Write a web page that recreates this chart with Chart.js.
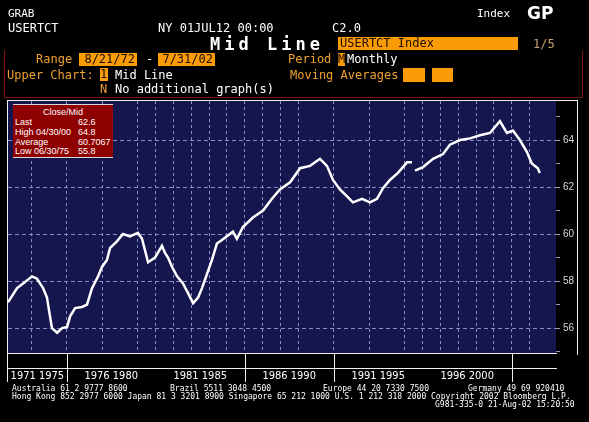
<!doctype html>
<html lang="en">
<head>
<meta charset="utf-8">
<title>Mid Line - USERTCT Index</title>
<script src="https://cdn.jsdelivr.net/npm/chart.js@4.4.4/dist/chart.umd.min.js"></script>
<style>
  html, body { margin: 0; background: #000; }
  .screen { position: relative; width: 589px; height: 422px; overflow: hidden; background: #000; }
  canvas { position: absolute; left: 0; top: 0; }
  .t { position: absolute; white-space: pre; font-family: "DejaVu Sans Mono", monospace; font-size: 12px; line-height: 14px; color: #fff; }
  .o { color: #eea030; }
  .box { position: absolute; background: #fb9b06; color: #1a0e00; font-family: "DejaVu Sans Mono", monospace; font-size: 12px; line-height: 13px; height: 13px; white-space: pre; }
  .foot { position: absolute; white-space: pre; font-family: "DejaVu Sans Mono", monospace; font-size: 8px; line-height: 8px; color: #fff; }
  .stats { position: absolute; left: 13px; top: 104px; width: 100px; height: 52px; background: #8e0000;
           border-top: 1px solid #d8d8d8; border-bottom: 1px solid #d8d8d8;
           font-family: "Liberation Sans", Arial, sans-serif; font-size: 9px; line-height: 10px; color: #fff; }
  .stats div { position: absolute; white-space: pre; }
</style>
</head>
<body>
<div class="screen">
<canvas id="chart" width="589" height="422"></canvas>

<div class="t" style="left:8px;top:7px;font-size:11px">GRAB</div>
<div class="t" style="left:8px;top:21px">USERTCT</div>
<div class="t" style="left:158px;top:21px">NY 01JUL12 00:00</div>
<div class="t" style="left:332px;top:21px">C2.0</div>
<div class="t" style="left:477px;top:7px;font-size:11px">Index</div>
<div class="t" style="left:527px;top:5px;font:bold 17px 'DejaVu Sans',sans-serif;line-height:17px">GP</div>
<div class="t" style="left:210px;top:36px;font-weight:bold;font-size:17px;letter-spacing:4px;line-height:16px">Mid Line</div>
<div class="box" style="left:338px;top:37px;width:180px;padding-left:2px;box-sizing:border-box">USERTCT Index</div>
<div class="t" style="left:533px;top:37px;color:#c8a070">1/5</div>

<div class="t o" style="left:36px;top:52px">Range</div>
<div class="box" style="left:79px;top:53px;width:58px;text-align:right;padding-right:2px;box-sizing:border-box">8/21/72</div>
<div class="t" style="left:146px;top:52px">-</div>
<div class="box" style="left:158px;top:53px;width:57px;text-align:right;padding-right:2px;box-sizing:border-box">7/31/02</div>
<div class="t o" style="left:288px;top:52px">Period</div>
<div class="box" style="left:338px;top:53px;width:7px">M</div>
<div class="t" style="left:347px;top:52px">Monthly</div>

<div class="t o" style="left:7px;top:68px">Upper Chart:</div>
<div class="box" style="left:100px;top:68px;width:8px">1</div>
<div class="t" style="left:115px;top:68px">Mid Line</div>
<div class="t o" style="left:290px;top:68px">Moving Averages</div>
<div class="box" style="left:403px;top:68px;width:22px;height:14px"></div>
<div class="box" style="left:432px;top:68px;width:21px;height:14px"></div>
<div class="t o" style="left:100px;top:82px">N</div>
<div class="t" style="left:115px;top:82px">No additional graph(s)</div>

<div class="stats">
  <div style="left:0;width:100px;text-align:center;top:2px">Close/Mid</div>
  <div style="left:2px;top:12px">Last</div><div style="left:65px;top:12px">62.6</div>
  <div style="left:2px;top:22px">High 04/30/00</div><div style="left:65px;top:22px">64.8</div>
  <div style="left:2px;top:32px">Average</div><div style="left:65px;top:32px">60.7067</div>
  <div style="left:2px;top:41px">Low 06/30/75</div><div style="left:65px;top:41px">55.8</div>
</div>

<div class="foot" style="left:12px;top:385px">Australia 61 2 9777 8600</div>
<div class="foot" style="left:170px;top:385px">Brazil 5511 3048 4500</div>
<div class="foot" style="left:323px;top:385px">Europe 44 20 7330 7500</div>
<div class="foot" style="left:468px;top:385px">Germany 49 69 920410</div>
<div class="foot" style="left:12px;top:393px">Hong Kong 852 2977 6000 Japan 81 3 3201 8900 Singapore 65 212 1000 U.S. 1 212 318 2000 Copyright 2002 Bloomberg L.P.</div>
<div class="foot" style="left:435px;top:401px">G981-335-0 21-Aug-02 15:20:50</div>
</div>

<script>
// Mid line values, dates as decimal years.
// The null marks the short gap in the line around mid-1995.
const dateYears = [
  1972.70, 1973.21, 1973.55, 1974.05, 1974.33, 1974.67, 1974.89, 1975.06, 1975.17, 1975.46,
  1975.74, 1976.02, 1976.19, 1976.47, 1976.86, 1977.14, 1977.42, 1977.76, 1977.98, 1978.26,
  1978.43, 1978.83, 1979.16, 1979.55, 1980.00, 1980.23, 1980.40, 1980.57, 1980.96, 1981.35,
  1981.52, 1981.69, 1981.92, 1982.20, 1982.53, 1982.81, 1983.10, 1983.38, 1983.60, 1983.88,
  1984.16, 1984.44, 1984.72, 1985.34, 1985.56, 1985.90, 1986.46, 1987.03, 1987.53, 1987.98,
  1988.55, 1989.11, 1989.67, 1990.23, 1990.62, 1990.96, 1991.35, 1991.75, 1992.08, 1992.59,
  1993.04, 1993.43, 1993.77, 1994.16, 1994.61, 1995.12, 1995.40, 1995.48, 1995.57, 1996.02,
  1996.58, 1997.14, 1997.53, 1998.10, 1998.66, 1999.22, 1999.78, 2000.34, 2000.73, 2001.07,
  2001.46, 2001.85, 2002.13, 2002.47, 2002.58
];
const midValues = [
  57.1, 57.7, 57.9, 58.2, 58.1, 57.7, 57.3, 56.5, 56.0, 55.8,
  56.0, 56.05, 56.5, 56.85, 56.9, 57.0, 57.7, 58.2, 58.6, 58.9,
  59.4, 59.7, 60.0, 59.9, 60.05, 59.8, 59.3, 58.8, 59.0, 59.5,
  59.2, 59.0, 58.6, 58.2, 57.9, 57.5, 57.06, 57.3, 57.7, 58.3,
  58.9, 59.6, 59.75, 60.1, 59.8, 60.3, 60.7, 61.0, 61.5, 61.9,
  62.2, 62.8, 62.9, 63.2, 62.9, 62.3, 61.9, 61.6, 61.35, 61.5,
  61.35, 61.5, 61.95, 62.3, 62.6, 63.05, 63.05, null, 62.7, 62.85,
  63.2, 63.4, 63.8, 64.0, 64.07, 64.2, 64.3, 64.8, 64.3, 64.4,
  64.0, 63.5, 63.0, 62.8, 62.6
];

// Axis settings
const xMin = 1972.70, xMax = 2003.49;
const yMin = 54.94, yMax = 65.66;
const gridYears = [1974, 1976, 1978, 1980, 1981, 1982, 1983, 1984, 1985, 1986, 1987, 1988, 1989,
                   1991, 1993, 1995, 1996, 1997, 1998, 1999, 2000, 2001, 2002];
const yTicks = [55, 56, 57, 58, 59, 60, 61, 62, 63, 64, 65];
const periodLabels = ["1971 1975", "1976 1980", "1981 1985", "1986 1990", "1991 1995", "1996 2000"];
const periodStarts = [1971, 1976, 1981, 1986, 1991, 1996];
const boxEdges = [1976, 1986, 1991, 2001];

const NAVY = "#16164e";
const GRID = "#8a8ac4";

const points = dateYears.map((x, i) => ({ x, y: midValues[i] }));

const frame = {
  id: "frame",
  beforeDraw(chart) {
    const { ctx, chartArea: a } = chart;
    ctx.save();
    ctx.fillStyle = "#000";
    ctx.fillRect(0, 0, chart.width, chart.height);
    ctx.fillStyle = NAVY;
    ctx.fillRect(a.left, a.top, a.right - a.left, a.bottom - a.top);
    ctx.restore();
  },
  afterDraw(chart) {
    const { ctx, chartArea: a } = chart;
    const xs = chart.scales.x;
    const line = (x1, y1, x2, y2, c) => {
      ctx.strokeStyle = c;
      ctx.beginPath(); ctx.moveTo(x1, y1); ctx.lineTo(x2, y2); ctx.stroke();
    };
    ctx.save();
    ctx.lineWidth = 1;
    // dark red header frame
    line(4.5, 50, 4.5, 97.5, "#7a1414");
    line(582.5, 50, 582.5, 97.5, "#7a1414");
    line(4.5, 97.5, 582.5, 97.5, "#7a1414");
    // white chart frame
    const W = "#f0f0f0";
    line(7, a.top - 0.5, 578, a.top - 0.5, W);
    line(7.5, a.top - 1, 7.5, 382, W);
    line(577.5, a.top - 1, 577.5, 355, W);
    line(7, a.bottom + 0.5, a.right + 1, a.bottom + 0.5, W);
    line(7, a.bottom + 15.5, a.right + 1, a.bottom + 15.5, W);
    for (const yr of boxEdges) {
      const px = Math.round(xs.getPixelForValue(yr)) + 0.5;
      line(px, a.bottom, px, 382, W);
    }
    // period labels
    ctx.fillStyle = "#fff";
    ctx.font = "11px 'Liberation Sans Narrow', 'DejaVu Sans Condensed', sans-serif";
    ctx.textAlign = "center";
    ctx.textBaseline = "middle";
    periodLabels.forEach((lab, i) => {
      const s = Math.max(periodStarts[i], xMin), e = periodStarts[i] + 5;
      ctx.fillText(lab, xs.getPixelForValue((s + e) / 2), a.bottom + 23);
    });
    ctx.restore();
  }
};

new Chart(document.getElementById("chart"), {
  type: "line",
  data: {
    datasets: [{
      data: points, borderColor: "#ffffff", borderWidth: 2.5,
      pointRadius: 0, tension: 0, spanGaps: false,
    }],
  },
  options: {
    responsive: false, animation: false,
    layout: { padding: { left: 8, top: 101, right: 0, bottom: 69 } },
    plugins: { legend: { display: false }, tooltip: { enabled: false } },
    scales: {
      x: {
        type: "linear", min: xMin, max: xMax,
        afterBuildTicks: (s) => { s.ticks = gridYears.map((v) => ({ value: v })); },
        ticks: { display: false },
        grid: { color: GRID, drawTicks: false, lineWidth: 1 },
        border: { display: false, dash: [3, 3] },
        afterFit: (s) => { s.height = 0; },
      },
      y: {
        position: "right", min: yMin, max: yMax,
        afterBuildTicks: (s) => { s.ticks = yTicks.map((v) => ({ value: v })); },
        ticks: {
          autoSkip: false, padding: 3, color: "#d8d8d8",
          font: { family: "'Liberation Sans', Arial, sans-serif", size: 10 },
          callback: (v) => (v % 2 === 0 ? String(v) : ""),
        },
        grid: {
          color: (c) => (c.tick && c.tick.value % 2 === 0 ? GRID : "rgba(0,0,0,0)"),
          tickColor: "#9a9ac0", tickLength: 4, lineWidth: 1,
        },
        border: { display: false, dash: [4, 3] },
        afterFit: (s) => { s.width = 33; },
      },
    },
  },
  plugins: [frame],
});
</script>
</body>
</html>
